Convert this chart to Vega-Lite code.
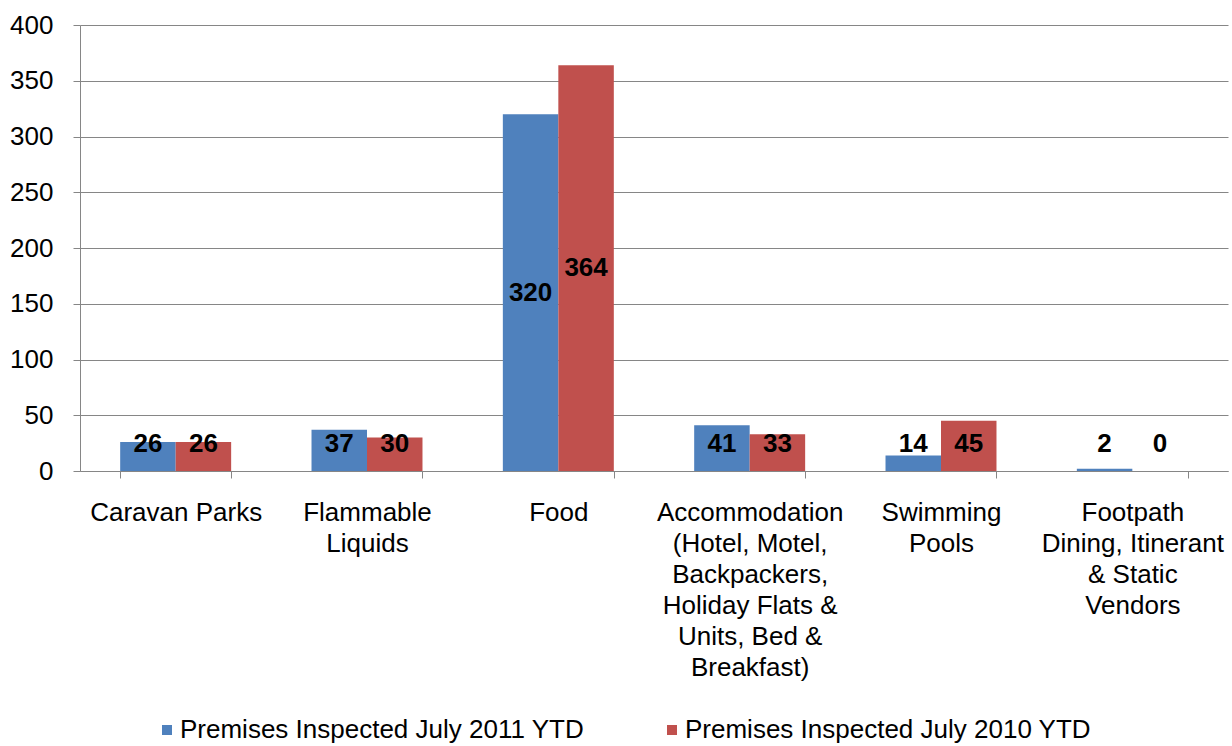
{
  "$schema": "https://vega.github.io/schema/vega-lite/v6.json",
  "width": 1148,
  "height": 446,
  "autosize": {"type": "none"},
  "padding": {"left": 80, "top": 25, "right": 4, "bottom": 275},
  "background": "white",
  "config": {
    "view": {"stroke": null},
    "font": "Liberation Sans",
    "axis": {"labelFont": "Liberation Sans", "labelFontSize": 26, "labelColor": "#000000", "domainColor": "#868686", "tickColor": "#868686", "gridColor": "#868686", "title": null, "labelLimit": 0}
  },
  "data": {
    "values": [
      {"category": "Caravan Parks", "series": "Premises Inspected July 2011 YTD", "value": 26},
      {"category": "Caravan Parks", "series": "Premises Inspected July 2010 YTD", "value": 26},
      {"category": "Flammable|Liquids", "series": "Premises Inspected July 2011 YTD", "value": 37},
      {"category": "Flammable|Liquids", "series": "Premises Inspected July 2010 YTD", "value": 30},
      {"category": "Food", "series": "Premises Inspected July 2011 YTD", "value": 320},
      {"category": "Food", "series": "Premises Inspected July 2010 YTD", "value": 364},
      {"category": "Accommodation|(Hotel, Motel,|Backpackers,|Holiday Flats &|Units, Bed &|Breakfast)", "series": "Premises Inspected July 2011 YTD", "value": 41},
      {"category": "Accommodation|(Hotel, Motel,|Backpackers,|Holiday Flats &|Units, Bed &|Breakfast)", "series": "Premises Inspected July 2010 YTD", "value": 33},
      {"category": "Swimming|Pools", "series": "Premises Inspected July 2011 YTD", "value": 14},
      {"category": "Swimming|Pools", "series": "Premises Inspected July 2010 YTD", "value": 45},
      {"category": "Footpath|Dining, Itinerant|& Static|Vendors", "series": "Premises Inspected July 2011 YTD", "value": 2},
      {"category": "Footpath|Dining, Itinerant|& Static|Vendors", "series": "Premises Inspected July 2010 YTD", "value": 0}
    ]
  },
  "encoding": {
    "x": {
      "field": "category", "type": "nominal", "sort": null,
      "scale": {"paddingInner": 0.42, "paddingOuter": 0.21},
      "axis": {"labelAngle": 0, "labelExpr": "split(datum.label, '|')", "labelLineHeight": 31, "labelPadding": 21, "tickBand": "extent", "tickSize": 7, "labelBaseline": "top", "labelLimit": 0}
    },
    "xOffset": {"field": "series", "type": "nominal", "sort": ["Premises Inspected July 2011 YTD", "Premises Inspected July 2010 YTD"]}
  },
  "layer": [
    {
      "mark": {"type": "bar"},
      "encoding": {
        "y": {
          "field": "value", "type": "quantitative",
          "scale": {"domain": [0, 400]},
          "axis": {"values": [0, 50, 100, 150, 200, 250, 300, 350, 400], "grid": true, "tickSize": 7, "labelPadding": 20, "domain": true}
        },
        "color": {
          "field": "series", "type": "nominal",
          "sort": ["Premises Inspected July 2011 YTD", "Premises Inspected July 2010 YTD"],
          "scale": {"range": ["#4F81BD", "#C0504D"]},
          "legend": {
            "title": null, "orient": "none", "direction": "horizontal",
            "legendX": 74, "legendY": 692,
            "symbolType": "square", "symbolSize": 100, "symbolStrokeWidth": 0,
            "labelFontSize": 26, "labelFont": "Liberation Sans", "labelColor": "#000000",
            "labelOffset": 0, "columnPadding": 74, "labelLimit": 600
          }
        }
      }
    },
    {
      "transform": [{"calculate": "max(datum.value / 2, 24)", "as": "labelPos"}],
      "mark": {"type": "text", "fontSize": 26, "fontWeight": "bold", "color": "#000000", "baseline": "middle"},
      "encoding": {
        "y": {"field": "labelPos", "type": "quantitative"},
        "text": {"field": "value", "type": "quantitative"}
      }
    }
  ]
}
